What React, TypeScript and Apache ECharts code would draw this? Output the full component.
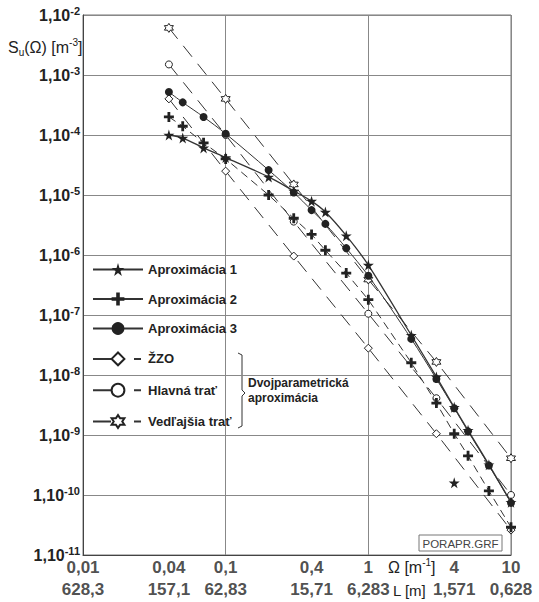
import React, { useEffect, useRef } from 'react';
import * as echarts from 'echarts';

// ---- data ----
const omegaApprox = [0.04, 0.05, 0.07, 0.1, 0.2, 0.3, 0.4, 0.5, 0.7, 1, 2, 3, 4, 5, 7, 10];
const aprox1 = [1.0e-4, 8.9e-5, 6.1e-5, 4.2e-5, 2.0e-5, 1.17e-5, 7.9e-6, 5.2e-6, 2.1e-6, 6.8e-7, 4.6e-8, 9.3e-9, 2.9e-9, 1.2e-9, 3.2e-10, 7.6e-11];
const aprox2 = [2.0e-4, 1.4e-4, 7.4e-5, 4.0e-5, 1.0e-5, 4.1e-6, 2.2e-6, 1.2e-6, 5.0e-7, 1.8e-7, 1.6e-8, 3.4e-9, 1.05e-9, 4.5e-10, 1.17e-10, 2.9e-11];
const aprox3 = [5.2e-4, 3.5e-4, 2.0e-4, 1.05e-4, 2.6e-5, 1.1e-5, 5.6e-6, 3.3e-6, 1.3e-6, 4.5e-7, 4.0e-8, 8.6e-9, 2.8e-9, 1.15e-9, 3.1e-10, 7.4e-11];

const omegaTwoParam = [0.04, 0.1, 0.3, 1, 3, 10];
const zzo = [4.0e-4, 2.5e-5, 9.6e-7, 2.8e-8, 1.05e-9, 2.6e-11];
const hlavnaTrat = [1.5e-3, 1.0e-4, 3.6e-6, 1.05e-7, 4.1e-9, 1.0e-10];
const vedlajsiaTrat = [6.1e-3, 4.0e-4, 1.5e-5, 3.9e-7, 1.65e-8, 4.1e-10];

const outlierOmega = [4];
const outlierS = [1.6e-10];

const xTickValues = [0.01, 0.04, 0.1, 0.4, 1, 4, 10];
const omegaTickLabels = ['0,01', '0,04', '0,1', '0,4', '1', '4', '10'];
const lengthTickLabels = ['628,3', '157,1', '62,83', '15,71', '6,283', '1,571', '0,628'];

const yMin = 1e-11;
const yMax = 1e-2;
const xMin = 0.01;
const xMax = 10;

const FONT = '"Liberation Sans", Arial, sans-serif';
const INK = '#222';
const LINE = '#333';

const STAR = 'path://M50,0 L61,35 L98,35 L68,57 L79,91 L50,70 L21,91 L32,57 L2,35 L39,35 Z';
const PLUS = 'path://M36,0 H64 V36 H100 V64 H64 V100 H36 V64 H0 V36 H36 Z';
const HEXAGRAM = 'path://M50,0 L64.4,25 L93.3,25 L78.9,50 L93.3,75 L64.4,75 L50,100 L35.6,75 L6.7,75 L21.1,50 L6.7,25 L35.6,25 Z';

const pairs = (xs: number[], ys: number[]) => xs.map((x, i) => [x, ys[i]]);

export default function App() {
  const ref = useRef<HTMLDivElement>(null);

  useEffect(() => {
    document.body.style.margin = '0';
    if (!ref.current) return;
    const chart = echarts.init(ref.current, null, { renderer: 'svg' });

    const openItem = { color: '#fff', borderColor: INK, borderWidth: 1, opacity: 1 };
    const dashTwo = { color: LINE, width: 1, type: [14, 9] as any };

    const option: any = {
      animation: false,
      backgroundColor: '#fff',
      textStyle: { fontFamily: FONT },
      grid: { left: 83, right: 28, top: 15, bottom: 47, show: true, borderColor: '#777', borderWidth: 1 },
      xAxis: {
        type: 'log',
        logBase: 10,
        min: xMin,
        max: xMax,
        axisLine: { show: true, onZero: false, lineStyle: { color: '#444', width: 1 } },
        axisTick: { show: false },
        axisLabel: { show: false },
        splitLine: { show: true, lineStyle: { color: '#888', width: 1 } },
      },
      yAxis: {
        type: 'log',
        logBase: 10,
        min: yMin,
        max: yMax,
        splitNumber: 10,
        axisLine: { show: true, onZero: false, lineStyle: { color: '#444', width: 1 } },
        axisTick: { show: false },
        splitLine: { show: true, lineStyle: { color: '#888', width: 1 } },
        axisLabel: {
          margin: 3,
          formatter: (v: number) => `{a|1,10}{s|${Math.round(Math.log10(v))}}`,
          rich: {
            a: { fontSize: 16, fontWeight: 'bold', fontFamily: FONT, color: INK, lineHeight: 20 },
            s: { fontSize: 11, fontWeight: 'bold', fontFamily: FONT, color: INK, lineHeight: 12, verticalAlign: 'top' },
          },
        },
      },
      legend: {
        orient: 'vertical',
        left: 92,
        top: 263,
        itemWidth: 50,
        itemHeight: 16,
        itemGap: 16.5,
        selectedMode: false,
        padding: 0,
        textStyle: { fontSize: 13, fontWeight: 'bold', fontFamily: FONT, color: INK },
        data: [
          { name: 'Aproximácia 1', lineStyle: { type: 'solid' } },
          { name: 'Aproximácia 2', lineStyle: { type: 'solid' } },
          { name: 'Aproximácia 3', lineStyle: { type: 'solid' } },
          { name: 'ŽZO', lineStyle: { type: [18, 23, 7, 10] } },
          { name: 'Hlavná trať', lineStyle: { type: [18, 23, 7, 10] } },
          { name: 'Vedľajšia trať', lineStyle: { type: [18, 23, 7, 10] } },
        ],
      },
      series: [
        {
          name: 'Aproximácia 1',
          type: 'line',
          data: pairs(omegaApprox, aprox1),
          symbol: STAR,
          symbolSize: 11,
          showAllSymbol: true,
          smooth: 0.3,
          itemStyle: { color: INK, opacity: 1 },
          lineStyle: { color: LINE, width: 1.3 },
          z: 5,
        },
        {
          name: 'Aproximácia 2',
          type: 'line',
          data: pairs(omegaApprox, aprox2),
          symbol: PLUS,
          symbolSize: 10,
          showAllSymbol: true,
          itemStyle: { color: INK, opacity: 1 },
          lineStyle: { color: LINE, width: 1, type: [8, 5] },
          z: 4,
        },
        {
          name: 'Aproximácia 3',
          type: 'line',
          data: pairs(omegaApprox, aprox3),
          symbol: 'circle',
          symbolSize: 8,
          showAllSymbol: true,
          smooth: 0.3,
          itemStyle: { color: INK, opacity: 1 },
          lineStyle: { color: LINE, width: 1 },
          z: 4,
        },
        {
          name: 'ŽZO',
          type: 'line',
          data: pairs(omegaTwoParam, zzo),
          symbol: 'diamond',
          symbolSize: 8,
          showAllSymbol: true,
          itemStyle: openItem,
          lineStyle: dashTwo,
          z: 3,
        },
        {
          name: 'Hlavná trať',
          type: 'line',
          data: pairs(omegaTwoParam, hlavnaTrat),
          symbol: 'circle',
          symbolSize: 7,
          showAllSymbol: true,
          itemStyle: openItem,
          lineStyle: dashTwo,
          z: 3,
        },
        {
          name: 'Vedľajšia trať',
          type: 'line',
          data: pairs(omegaTwoParam, vedlajsiaTrat),
          symbol: HEXAGRAM,
          symbolSize: 9,
          showAllSymbol: true,
          itemStyle: openItem,
          lineStyle: dashTwo,
          z: 3,
        },
        {
          name: 'outlier',
          type: 'scatter',
          data: pairs(outlierOmega, outlierS),
          symbol: STAR,
          symbolSize: 11,
          itemStyle: { color: INK, opacity: 1 },
          z: 5,
        },
        {
          name: 'tickLabels',
          type: 'scatter',
          data: xTickValues.map((v) => [v, yMin]),
          symbolSize: 1,
          clip: false,
          silent: true,
          itemStyle: { color: 'rgba(0,0,0,0)' },
          label: {
            show: true,
            position: 'bottom',
            distance: 2,
            formatter: (p: any) => `{a|${omegaTickLabels[p.dataIndex]}}\n{b|${lengthTickLabels[p.dataIndex]}}`,
            rich: {
              a: { fontSize: 17, fontWeight: 'bold', fontFamily: FONT, color: INK, lineHeight: 20 },
              b: { fontSize: 17, fontWeight: 'bold', fontFamily: FONT, color: INK, lineHeight: 24 },
            },
          },
          z: 1,
        },
      ],
      graphic: [
        {
          type: 'text',
          x: 8,
          y: 47,
          style: {
            text: '{a|S}{sub|u}{a|(Ω) [m}{sup|-3}{a|]}',
            align: 'left',
            verticalAlign: 'middle',
            rich: {
              a: { fontSize: 16, fontFamily: FONT, fill: INK, lineHeight: 20 },
              sub: { fontSize: 10, fontFamily: FONT, fill: INK, lineHeight: 11, verticalAlign: 'bottom' },
              sup: { fontSize: 10, fontFamily: FONT, fill: INK, lineHeight: 11, verticalAlign: 'top' },
            },
          },
        },
        {
          type: 'text',
          x: 388,
          y: 567,
          style: {
            text: '{a|Ω [m}{s|-1}{a|]}',
            align: 'left',
            verticalAlign: 'middle',
            rich: {
              a: { fontSize: 16, fontFamily: FONT, fill: INK, lineHeight: 20 },
              s: { fontSize: 10, fontFamily: FONT, fill: INK, lineHeight: 11, verticalAlign: 'top' },
            },
          },
        },
        {
          type: 'text',
          x: 393,
          y: 590,
          style: {
            text: 'L [m]',
            align: 'left',
            verticalAlign: 'middle',
            font: `15px ${FONT}`,
            fill: INK,
          },
        },
        {
          type: 'polyline',
          shape: {
            points: [
              [238, 353],
              [242, 355],
              [242, 390],
              [245, 393],
              [242, 396],
              [242, 426],
              [238, 428],
            ],
          },
          style: { stroke: LINE, lineWidth: 1, fill: null },
        },
        {
          type: 'text',
          x: 248,
          y: 390,
          style: {
            text: 'Dvojparametrická\naproximácia',
            align: 'left',
            verticalAlign: 'middle',
            font: `bold 12px ${FONT}`,
            lineHeight: 15,
            fill: INK,
          },
        },
        {
          type: 'rect',
          z: 100,
          shape: { x: 419, y: 535, width: 83, height: 16 },
          style: { stroke: '#777', lineWidth: 1, fill: '#fff' },
        },
        {
          type: 'text',
          z: 101,
          x: 460.5,
          y: 543.5,
          style: {
            text: 'PORAPR.GRF',
            align: 'center',
            verticalAlign: 'middle',
            font: `11.5px ${FONT}`,
            fill: '#444',
          },
        },
      ],
    };

    chart.setOption(option);
    return () => chart.dispose();
  }, []);

  return <div ref={ref} style={{ width: 539, height: 602 }} />;
}
